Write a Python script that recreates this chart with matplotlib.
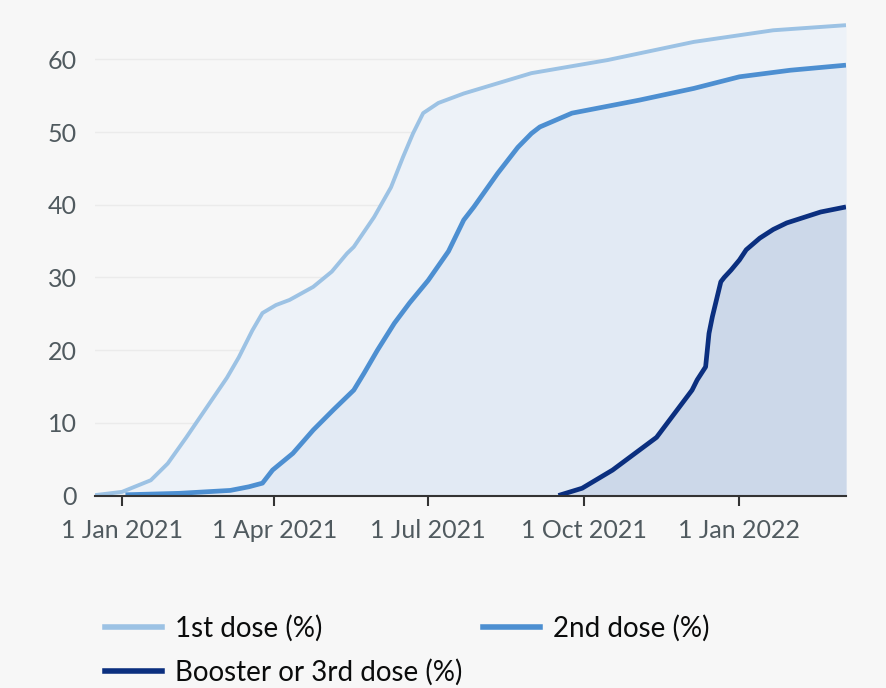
import matplotlib
matplotlib.use("Agg")
import matplotlib.pyplot as plt
import matplotlib.dates as mdates
import pandas as pd
from matplotlib.lines import Line2D

first_dates = ["2020-12-16", "2021-01-01", "2021-01-18", "2021-01-28", "2021-02-08",
               "2021-02-20", "2021-03-04", "2021-03-11", "2021-03-19", "2021-03-25",
               "2021-04-02", "2021-04-10", "2021-04-24", "2021-05-05", "2021-05-14",
               "2021-05-18", "2021-05-30", "2021-06-09", "2021-06-16", "2021-06-22",
               "2021-06-28", "2021-07-07", "2021-07-22", "2021-08-11", "2021-08-31",
               "2021-10-15", "2021-12-05", "2022-01-21", "2022-03-05"]
first_vals = [0.05, 0.5, 2.1, 4.4, 8.0,
              12.1, 16.2, 19.0, 22.7, 25.1,
              26.2, 26.9, 28.7, 30.8, 33.3,
              34.2, 38.3, 42.4, 46.5, 49.8,
              52.6, 54.0, 55.3, 56.7, 58.1,
              59.9, 62.4, 64.0, 64.7]

second_dates = ["2021-01-03", "2021-02-04", "2021-03-06", "2021-03-17", "2021-03-25",
                "2021-03-31", "2021-04-12", "2021-04-24", "2021-05-06", "2021-05-18",
                "2021-05-24", "2021-06-01", "2021-06-11", "2021-06-20", "2021-07-01",
                "2021-07-13", "2021-07-22", "2021-07-28", "2021-08-11", "2021-08-23",
                "2021-08-31", "2021-09-05", "2021-09-24", "2021-11-03", "2021-12-05",
                "2022-01-01", "2022-01-31", "2022-03-05"]
second_vals = [0.1, 0.3, 0.7, 1.2, 1.7,
               3.5, 5.8, 9.0, 11.8, 14.5,
               16.8, 20.0, 23.7, 26.5, 29.6,
               33.6, 37.9, 39.7, 44.3, 47.9,
               49.8, 50.7, 52.6, 54.4, 56.0,
               57.6, 58.5, 59.2]

booster_dates = ["2021-09-16", "2021-09-30", "2021-10-18", "2021-11-13", "2021-12-04",
                 "2021-12-07", "2021-12-12", "2021-12-14", "2021-12-16", "2021-12-21",
                 "2021-12-23", "2021-12-27", "2022-01-01", "2022-01-05", "2022-01-13",
                 "2022-01-21", "2022-01-29", "2022-02-18", "2022-03-05"]
booster_vals = [0.0, 1.0, 3.5, 8.0, 14.5,
                15.9, 17.7, 22.3, 24.6, 29.4,
                30.0, 31.0, 32.4, 33.8, 35.4,
                36.6, 37.5, 39.0, 39.7]

series_labels = ["1st dose (%)", "2nd dose (%)", "Booster or 3rd dose (%)"]
x_ticks = ["2021-01-01", "2021-04-01", "2021-07-01", "2021-10-01", "2022-01-01"]
x_tick_labels = ["1 Jan 2021", "1 Apr 2021", "1 Jul 2021", "1 Oct 2021", "1 Jan 2022"]
y_ticks = [0, 10, 20, 30, 40, 50, 60]

plt.rcParams['font.family'] = ['Lato', 'DejaVu Sans']

bg = '#f7f7f7'
fig = plt.figure(figsize=(8.87, 6.88), dpi=100, facecolor=bg)
ax = fig.add_axes([95/887, (688-495.5)/688, 751/887, 472.5/688])
ax.set_facecolor(bg)

d1 = pd.to_datetime(first_dates)
d2 = pd.to_datetime(second_dates)
d3 = pd.to_datetime(booster_dates)

c1, c2, c3 = '#9cc2e4', '#4d8fd1', '#0b2f7f'
f1, f2, f3 = '#edf2f8', '#e2eaf4', '#ccd8e9'

ax.fill_between(d1, 0, first_vals, color=f1, lw=0, zorder=1)
ax.fill_between(d2, 0, second_vals, color=f2, lw=0, zorder=2)
ax.fill_between(d3, 0, booster_vals, color=f3, lw=0, zorder=3)

ax.plot(d1, first_vals, color=c1, lw=2.8, zorder=5, solid_capstyle='butt', solid_joinstyle='round')
ax.plot(d2, second_vals, color=c2, lw=3.4, zorder=6, solid_capstyle='butt', solid_joinstyle='round')
ax.plot(d3, booster_vals, color=c3, lw=3.4, zorder=7, solid_capstyle='butt', solid_joinstyle='round')

ax.set_xlim(pd.Timestamp("2020-12-16"), pd.Timestamp("2022-03-05"))
ax.set_ylim(0, 65)

ax.set_yticks(y_ticks)
ax.set_xticks(pd.to_datetime(x_ticks))
ax.set_xticklabels(x_tick_labels)
ax.grid(axis='y', color='#ebebeb', lw=1, zorder=0)
ax.set_axisbelow(True)

for s in ['left', 'right', 'top']:
    ax.spines[s].set_visible(False)
ax.spines['bottom'].set_color('#333333')
ax.spines['bottom'].set_linewidth(1.5)
ax.spines['bottom'].set_zorder(8)

ax.tick_params(axis='y', length=0, pad=13, labelsize=18, labelcolor='#505a5f')
ax.tick_params(axis='x', length=7, width=1.5, color='#333333', pad=10,
               labelsize=18, labelcolor='#505a5f')

handles = [Line2D([], [], color=c1, lw=4),
           Line2D([], [], color=c3, lw=4),
           Line2D([], [], color=c2, lw=4)]
labels = [series_labels[0], series_labels[2], series_labels[1]]
leg = fig.legend(handles, labels, ncol=2, loc='upper left',
                 bbox_to_anchor=(105/887, 1 - 615/688), frameon=False,
                 fontsize=20, handlelength=2.05, handletextpad=0.47, borderpad=0,
                 borderaxespad=0, columnspacing=0.75, labelspacing=0.6,
                 labelcolor='#0b0c0c')

fig.savefig("out.png", dpi=100, facecolor=bg)
